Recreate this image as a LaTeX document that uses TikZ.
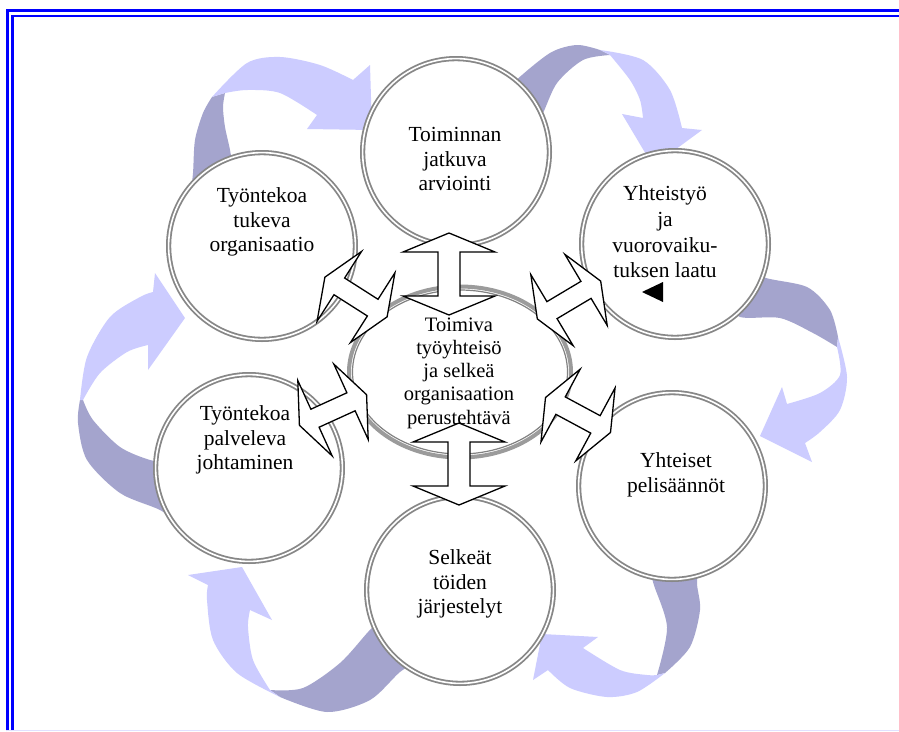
\documentclass[tikz,border=0pt]{standalone}
\usepackage{fontspec}
\setmainfont{Liberation Serif}
\usetikzlibrary{shapes.geometric}
\definecolor{arrdark}{RGB}{164,164,205}
\definecolor{arrlight}{RGB}{204,204,255}
\definecolor{ringgray}{RGB}{135,135,135}
\definecolor{ovgray}{RGB}{155,155,155}
\definecolor{ovin}{RGB}{130,130,130}
\definecolor{framefaint}{RGB}{225,225,255}
\newcommand\dblarr[4]{\draw[dbl,shift={(#1,#2)},rotate=#3,scale=#4] (-41,0) -- (-22,-46) -- (-22,-11) -- (22,-11) -- (22,-46) -- (41,0) -- (22,46) -- (22,11) -- (-22,11) -- (-22,46) -- cycle;}
\begin{document}
\begin{tikzpicture}[x=1pt,y=-1pt,
  ring/.style={circle,draw=ringgray,double=white,line width=1.8pt,double distance=1.6pt,fill=white,minimum size=186.8pt,inner sep=0pt},
  txt/.style={align=center,font=\fontsize{21.5}{24.5}\selectfont,inner sep=0pt},
  dbl/.style={draw=black,fill=white,line width=1.3pt,line join=miter},
  dark/.style={fill=arrdark},
  light/.style={fill=arrlight},
  frame/.style={draw=blue,line width=2.5pt,line join=miter}]
\useasboundingbox (0,0) rectangle (899,731);
\fill[white] (0,0) rectangle (899,731);
% frame
\draw[frame] (7.3,731) -- (7.3,10.5) -- (899,10.5);
\draw[frame] (12.3,731) -- (12.3,15.8) -- (899,15.8);
\draw[framefaint,line width=1pt] (6,730.3) -- (899,730.3);

% curved arrow A (6 -> 1)
\fill[dark] plot[smooth] coordinates {(190,200) (193,173) (195,140) (203,113) (212,97)} -- plot[smooth] coordinates {(225,93) (223,107) (225,127) (230,150) (235,180)} -- cycle;
\fill[light] plot[smooth] coordinates {(212,97) (247,63) (280,57) (320,65) (353,80)} -- (370,65) -- (372,130) -- (307,129) -- plot[smooth] coordinates {(317,115) (280,93) (247,90) (225,93)} -- cycle;
% curved arrow B (1 -> 2)
\fill[dark] plot[smooth] coordinates {(500,100) (513,83) (550,53) (577,45) (600,50)} -- plot[smooth] coordinates {(610,55) (583,60) (557,83) (542,115) (530,130)} -- cycle;
\fill[light] plot[smooth] coordinates {(600,50) (643,60) (670,90) (682,128)} -- (702,130) -- (653,166) -- (622,114) -- plot[smooth] coordinates {(643,118) (640,100) (630,80) (610,55)} -- cycle;
% curved arrow C (2 -> 3)
\fill[dark] plot[smooth] coordinates {(740,260) (763,277) (807,287) (830,310) (838,337)} -- plot[smooth] coordinates {(837,347) (813,333) (780,318) (740,317) (725,300)} -- cycle;
\fill[light] plot[smooth] coordinates {(838,337) (847,377) (840,410) (820,432) (805,443)} -- (812,462) -- (760,436) -- (782,387) -- plot[smooth] coordinates {(787,404) (820,393) (840,375) (837,347)} -- cycle;
% curved arrow D (3 -> 4)
\fill[dark] plot[smooth] coordinates {(700,560) (697,583) (700,610) (690,647) (665,673)} -- plot[smooth] coordinates {(657,675) (667,627) (653,582) (650,560)} -- cycle;
\fill[light] plot[smooth] coordinates {(665,673) (637,692) (607,697) (570,688) (548,670)} -- (533,680) -- (542,634) -- (598,637) -- plot[smooth] coordinates {(583,648) (620,670) (647,675) (657,675)} -- cycle;
% curved arrow E (4 -> 5)
\fill[dark] plot[smooth] coordinates {(420,660) (400,672) (370,700) (327,712) (280,697)} -- plot[smooth] coordinates {(270,690) (303,688) (340,663) (368,632) (380,620)} -- cycle;
\fill[light] plot[smooth] coordinates {(280,697) (237,673) (213,640) (207,600) (208,585)} -- (188,575) -- (242,567) -- (272,620) -- plot[smooth] coordinates {(250,610) (248,627) (253,660) (270,690)} -- cycle;
% curved arrow F (5 -> 6)
\fill[dark] plot[smooth] coordinates {(180,525) (160,510) (120,493) (87,460) (78,423) (80,400)} -- plot[smooth] coordinates {(83,400) (93,420) (120,447) (150,460) (170,462)} -- cycle;
\fill[light] plot[smooth] coordinates {(80,400) (87,357) (110,317) (140,297) (153,292)} -- (155,273) -- (185,318) -- (148,370) -- plot[smooth] coordinates {(148,345) (127,352) (100,373) (83,400)} -- cycle;

% circles
\node[ring] (c1) at (456,152) {};
\node[ring] (c2) at (675,244) {};
\node[ring] (c3) at (672,486) {};
\node[ring] (c4) at (460,590) {};
\node[ring] (c5) at (249,468) {};
\node[ring] (c6) at (262,246) {};
% centre oval
\node[ellipse,draw=ovgray,line width=4pt,fill=white,minimum width=222pt,minimum height=171pt,inner sep=0pt] (ctr) at (460,372) {};
\draw[ovin,line width=1.2pt] (ctr.center) ellipse [x radius=107.5, y radius=82];

% double arrows
\dblarr{449}{274}{90}{1}
\dblarr{459}{464}{90}{1}
\dblarr{356}{297}{147.5}{0.9}
\dblarr{569}{300}{30.8}{0.9}
\dblarr{333}{410}{24.5}{0.9}
\dblarr{578}{415}{-28.3}{0.9}

% texts
\node[txt] (t1) at (455,159) {Toiminnan\\jatkuva\\arviointi};
\node[txt,font=\fontsize{21.5}{25.7}\selectfont] (t2) at (665,232) {Yhteistyö\\ja\\vuorovaiku-\\tuksen laatu};
\fill (642,292) -- (663,282) -- (663,302) -- cycle;
\node[txt] (t3) at (676,475) {Yhteiset\\pelisäännöt};
\node[txt] (t4) at (460,584) {Selkeät\\töiden\\järjestelyt};
\node[txt] (t5) at (245,440) {Työntekoa\\palveleva\\johtaminen};
\node[txt] (t6) at (262,222) {Työntekoa\\tukeva\\organisaatio};
\node[txt,font=\fontsize{20.5}{23.3}\selectfont] (t0) at (459,373) {Toimiva\\työyhteisö\\ja selkeä\\organisaation\\perustehtävä};
\end{tikzpicture}
\end{document}
